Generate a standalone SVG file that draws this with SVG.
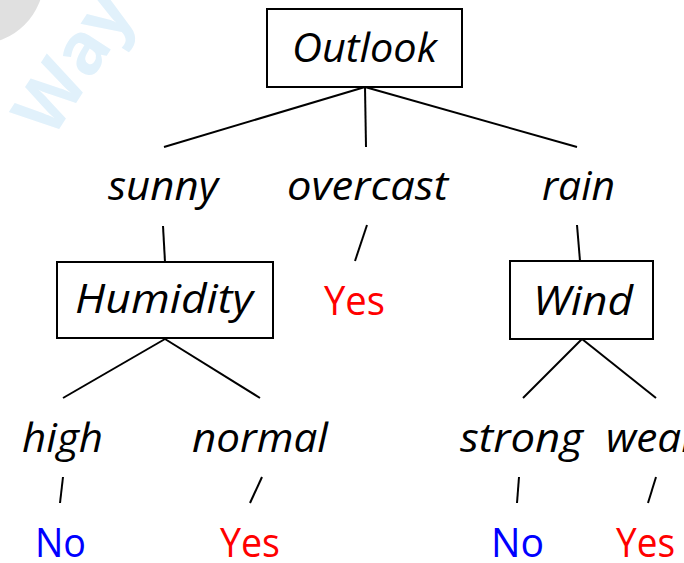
<svg xmlns="http://www.w3.org/2000/svg" width="684" height="563" viewBox="0 0 684 563">
<style>
.box{fill:#fff;stroke:#000;stroke-width:2}
.edge{stroke:#000;stroke-width:2;fill:none;stroke-linecap:butt}
.lbl{font-family:"Open Sans","Noto Sans","Liberation Sans",sans-serif;font-style:italic;font-size:40px;fill:#000}
.yes{font-family:"Open Sans","Noto Sans","Liberation Sans",sans-serif;font-size:40px;fill:#ff0000}
.no{font-family:"Open Sans","Noto Sans","Liberation Sans",sans-serif;font-size:40px;fill:#0000ff}
.wm{font-family:"Open Sans","Liberation Sans",sans-serif;font-weight:bold;font-size:72px;fill:#e1f1fb}
</style>
<rect width="684" height="563" fill="#fff"/>
<g id="watermark">
<circle cx="-22" cy="-22" r="66" fill="#e0e0e0"/>
<text class="wm" transform="translate(52,140) rotate(-57)">Way</text>
</g>
<g id="connectors">
<line class="edge" x1="365" y1="87" x2="164" y2="147"/>
<line class="edge" x1="365" y1="87" x2="366" y2="147"/>
<line class="edge" x1="365" y1="87" x2="577" y2="147"/>
<line class="edge" x1="163" y1="226" x2="165" y2="262"/>
<line class="edge" x1="367" y1="225" x2="355" y2="261"/>
<line class="edge" x1="577" y1="225" x2="580" y2="261"/>
<line class="edge" x1="165" y1="339" x2="63" y2="398"/>
<line class="edge" x1="165" y1="339" x2="260" y2="398"/>
<line class="edge" x1="582" y1="339" x2="523" y2="398"/>
<line class="edge" x1="582" y1="339" x2="656" y2="398"/>
<line class="edge" x1="63" y1="477" x2="60" y2="503"/>
<line class="edge" x1="262" y1="477" x2="250" y2="503"/>
<line class="edge" x1="519" y1="477" x2="517" y2="503"/>
<line class="edge" x1="656" y1="477" x2="648" y2="503"/>
</g>
<g id="outlook">
<rect class="box" x="267" y="9" width="195" height="78"/>
<text class="lbl" x="292" y="62" textLength="145" lengthAdjust="spacingAndGlyphs">Outlook</text>
</g>
<g id="sunny"><text class="lbl" x="108" y="200" textLength="110" lengthAdjust="spacingAndGlyphs">sunny</text></g>
<g id="overcast"><text class="lbl" x="287" y="200" textLength="161" lengthAdjust="spacingAndGlyphs">overcast</text></g>
<g id="rain"><text class="lbl" x="542" y="200" textLength="73" lengthAdjust="spacingAndGlyphs">rain</text></g>
<g id="humidity">
<rect class="box" x="57" y="262" width="216" height="76"/>
<text class="lbl" x="75" y="313" textLength="178" lengthAdjust="spacingAndGlyphs">Humidity</text>
</g>
<g id="yes-overcast"><text class="yes" x="324" y="315" textLength="61" lengthAdjust="spacingAndGlyphs">Yes</text></g>
<g id="wind">
<rect class="box" x="510" y="261" width="143" height="78"/>
<text class="lbl" x="533" y="315" textLength="100" lengthAdjust="spacingAndGlyphs">Wind</text>
</g>
<g id="high"><text class="lbl" x="22" y="452" textLength="81" lengthAdjust="spacingAndGlyphs">high</text></g>
<g id="normal"><text class="lbl" x="192" y="452" textLength="136" lengthAdjust="spacingAndGlyphs">normal</text></g>
<g id="strong"><text class="lbl" x="460" y="452" textLength="123" lengthAdjust="spacingAndGlyphs">strong</text></g>
<g id="weak"><text class="lbl" x="606" y="452" textLength="96" lengthAdjust="spacingAndGlyphs">weak</text></g>
<g id="no-high"><text class="no" x="35" y="557" textLength="51" lengthAdjust="spacingAndGlyphs">No</text></g>
<g id="yes-normal"><text class="yes" x="220" y="557" textLength="60" lengthAdjust="spacingAndGlyphs">Yes</text></g>
<g id="no-strong"><text class="no" x="491" y="557" textLength="53" lengthAdjust="spacingAndGlyphs">No</text></g>
<g id="yes-weak"><text class="yes" x="616" y="557" textLength="59" lengthAdjust="spacingAndGlyphs">Yes</text></g>
</svg>
